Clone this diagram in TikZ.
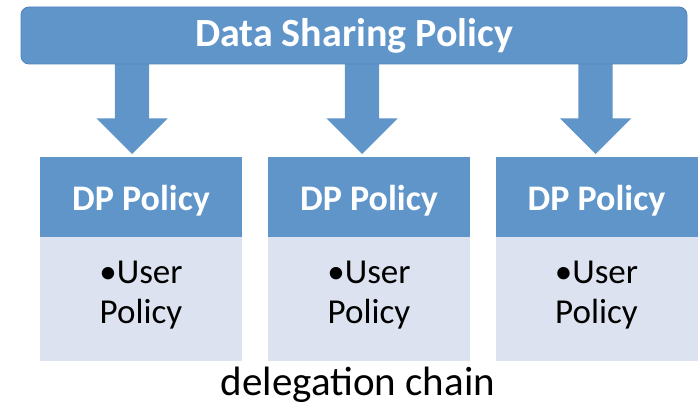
\documentclass[tikz,border=0pt]{standalone}
\usepackage{fontspec}
\setmainfont{Carlito}
\usetikzlibrary{positioning,shapes.arrows}
\definecolor{dsblue}{RGB}{96,149,202}
\definecolor{dsedge}{RGB}{80,130,185}
\definecolor{dslight}{RGB}{220,226,239}

\begin{document}
\begin{tikzpicture}[x=1pt,y=1pt,
    barbox/.style={fill=dsblue, draw=dsedge, line width=0.8pt, rounded corners=8pt,
      minimum width=666pt, minimum height=57pt, text=white,
      font=\fontsize{40}{44}\selectfont\bfseries},
    headbox/.style={fill=dsblue, minimum width=202pt, minimum height=80pt,
      inner sep=0pt, text height=30pt, text depth=4pt, text=white,
      font=\fontsize{36}{40}\selectfont\bfseries},
    bodybox/.style={fill=dslight, minimum width=202pt, minimum height=124pt,
      inner sep=0pt, align=center, font=\fontsize{35}{40}\selectfont},
    downarrow/.style={single arrow, fill=dsblue, rotate=-90, anchor=tail,
      minimum height=93pt, single arrow head extend=18.5pt,
      single arrow head indent=0pt, inner xsep=0pt, inner ysep=17pt}]
    \useasboundingbox (0,0) rectangle (700,-406);
    \node[headbox] (h1) at (141,-197) {DP Policy};
    \node[headbox] (h2) at (369,-197) {DP Policy};
    \node[headbox] (h3) at (596.5,-197) {DP Policy};
    \node[bodybox, below=0pt of h1] (b1) {\textbullet User\\Policy\\[-26pt]};
    \node[bodybox, below=0pt of h2] (b2) {\textbullet User\\Policy\\[-26pt]};
    \node[bodybox, below=0pt of h3] (b3) {\textbullet User\\Policy\\[-26pt]};
    \path (h1.north) ++(-9,96) coordinate (a1);
    \path (h2.north) ++(-7,96) coordinate (a2);
    \path (h3.north) ++(-1,96) coordinate (a3);
    \node[downarrow] (arr1) at (a1) {};
    \node[downarrow] (arr2) at (a2) {};
    \node[downarrow] (arr3) at (a3) {};
    \node[barbox] (bar) at (354,-35.5) {Data Sharing Policy};
    \node[font=\fontsize{41}{46}\selectfont] (chain) at (358,-385) {delegation chain};
\end{tikzpicture}
\end{document}
